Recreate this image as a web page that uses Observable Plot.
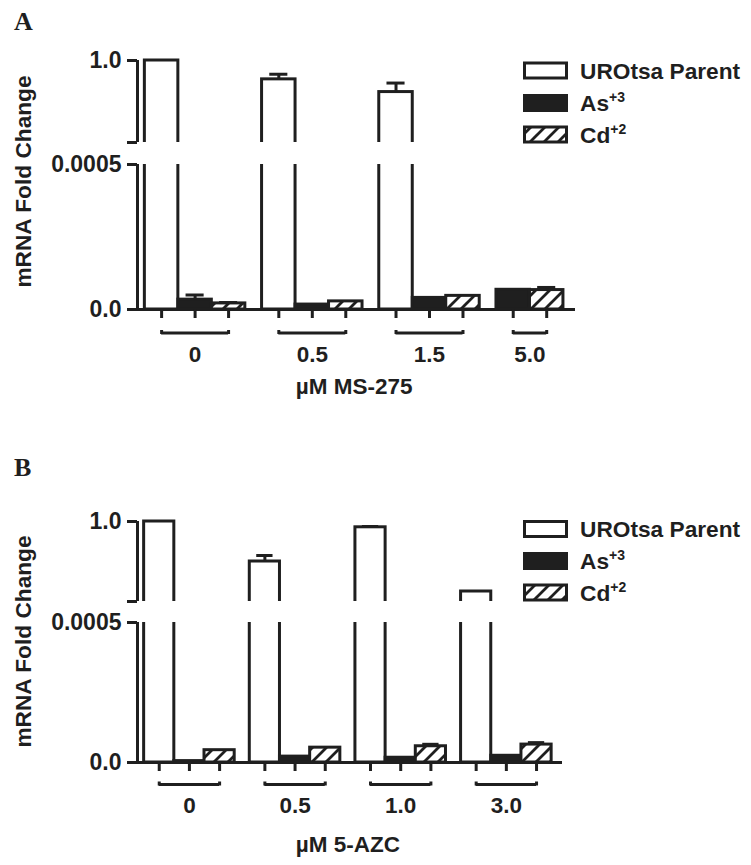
<!DOCTYPE html>
<html>
<head>
<meta charset="utf-8">
<script src="https://cdn.jsdelivr.net/npm/d3@7"></script>
<script src="https://cdn.jsdelivr.net/npm/@observablehq/plot@0.6"></script>
<style>
  html, body { margin: 0; padding: 0; background: #ffffff; }
  #root { position: relative; width: 751px; height: 865px; overflow: hidden; background: #ffffff; }
  #root > svg { position: absolute; left: 0; }
</style>
</head>
<body>
<div id="root">
  <svg id="overlay" width="751" height="865" style="position:absolute;left:0;top:0;">
    <defs>
      <pattern id="hatch" patternUnits="userSpaceOnUse" width="14" height="14">
        <rect width="14" height="14" fill="#ffffff"></rect>
        <path d="M-3.5,3.5 L3.5,-3.5 M0,14 L14,0 M10.5,17.5 L17.5,10.5" stroke="#1f1f1f" stroke-width="2.8"></path>
      </pattern>
    </defs>
  </svg>
</div>
<script>
// ---------------- data ----------------
const seriesNames = ["UROtsa Parent", "As", "Cd"];
const seriesSup = ["", "+3", "+2"];

// Panel A: µM MS-275
const dosesA = ["0", "0.5", "1.5", "5.0"];
const parentA = [1.0, 0.908, 0.846, null];
const parentErrA = [0.0, 0.025, 0.044, null];
const arsenicA = [0.000034, 0.000017, 0.000040, 0.000068];
const arsenicErrA = [0.000016, 0.0, 0.0, 0.0];
const cadmiumA = [0.000021, 0.000028, 0.000047, 0.000067];
const cadmiumErrA = [0.000003, 0.0, 0.0, 0.000009];
const titleA = "µM MS-275";

// Panel B: µM 5-AZC
const dosesB = ["0", "0.5", "1.0", "3.0"];
const parentB = [1.0, 0.80, 0.971, 0.65];
const parentErrB = [0.0, 0.03, 0.004, 0.0];
const arsenicB = [0.000005, 0.000021, 0.000017, 0.000024];
const arsenicErrB = [0.0, 0.0, 0.0, 0.0];
const cadmiumB = [0.000044, 0.000053, 0.000058, 0.000064];
const cadmiumErrB = [0.0, 0.0, 0.000007, 0.000007];
const titleB = "µM 5-AZC";

// broken y axis: upper segment [breakLow, 1.0], lower segment [0, 0.0005]
const upperTicks = [0.6, 1.0];
const lowerTicks = [0, 0.0005];
const yTickLabels = {"1": "1.0", "0.0005": "0.0005", "0": "0.0"};

// ---------------- styling ----------------
const INK = "#1f1f1f";
const FONT = "'Liberation Sans', Arial, Helvetica, sans-serif";
const GROUP_GAP = 0.5;
const FILLS = ["#ffffff", INK, "url(#hatch)"];

function buildRows(doses, series) {
  const rows = [], groups = [];
  let pos = 0;
  doses.forEach((dose, gi) => {
    const start = pos;
    series.forEach((s, si) => {
      const v = s.values[gi];
      if (v == null) return;
      rows.push({dose, series: si, value: v, err: s.errs[gi], pos});
      pos += 1;
    });
    groups.push({dose, start, end: pos - 1});
    pos += GROUP_GAP;
  });
  return {rows, groups, last: pos - GROUP_GAP - 1};
}

const root = document.getElementById("root");
const overlay = document.getElementById("overlay");
const NS = "http://www.w3.org/2000/svg";
function svgEl(tag, attrs, parent) {
  const e = document.createElementNS(NS, tag);
  for (const k in attrs) e.setAttribute(k, attrs[k]);
  (parent || overlay).appendChild(e);
  return e;
}

function makePanel(cfg) {
  const series = [
    {values: cfg.parent, errs: cfg.parentErr},
    {values: cfg.arsenic, errs: cfg.arsenicErr},
    {values: cfg.cadmium, errs: cfg.cadmiumErr}
  ];
  const {rows, groups, last} = buildRows(cfg.doses, series);
  const xDomain = [-0.5 - 0.22, last + 0.5 + 0.36];
  const marginRight = 751 - cfg.xRight;
  const style = {background: "transparent", overflow: "visible", fontFamily: FONT, color: INK};

  const bars = series.map((s, si) => Plot.rect(rows.filter(d => d.series === si), {
    x1: d => d.pos - 0.5, x2: d => d.pos + 0.5, y1: 0, y2: "value",
    fill: FILLS[si], stroke: INK, strokeWidth: 3, clip: true
  }));
  const withErr = rows.filter(d => d.err > 0);
  const errs = [
    Plot.ruleX(withErr, {x: "pos", y1: "value", y2: d => d.value + d.err, stroke: INK, strokeWidth: 3, clip: true}),
    Plot.ruleY(withErr, {y: d => d.value + d.err, x1: d => d.pos - 0.27, x2: d => d.pos + 0.27, stroke: INK, strokeWidth: 3, clip: true})
  ];
  const tickFmt = d => yTickLabels[String(d)] ?? "";

  // upper segment
  const upH = 20 + (cfg.upBottom - cfg.upTop) + 4;
  const upper = Plot.plot({
    width: 751, height: upH,
    marginLeft: 137, marginRight, marginTop: 8, marginBottom: 4,
    x: {domain: xDomain, axis: null},
    y: {domain: [upperTicks[0], upperTicks[1]], insetTop: 12, axis: null},
    style,
    marks: [
      ...bars, ...errs,
      Plot.ruleX([xDomain[0]], {y1: upperTicks[0], y2: upperTicks[1], stroke: INK, strokeWidth: 3}),
      Plot.axisY({ticks: upperTicks, tickFormat: tickFmt, tickSize: 10, tickPadding: 6, strokeWidth: 3,
        fontSize: 23, fontWeight: "bold", label: null, stroke: INK, fill: INK})
    ]
  });
  upper.style.top = (cfg.upTop - 20) + "px";
  root.appendChild(upper);

  // lower segment with x axis annotations
  const lowH = 10 + (cfg.lowBottom - cfg.lowTop) + 100;
  const ends = groups.flatMap(g => [g.start, g.end]);
  const lower = Plot.plot({
    width: 751, height: lowH,
    marginLeft: 137, marginRight, marginTop: 10, marginBottom: 100,
    x: {domain: xDomain, axis: null},
    y: {domain: [lowerTicks[0], lowerTicks[1]], axis: null},
    style,
    marks: [
      ...bars, ...errs,
      Plot.ruleX([xDomain[0]], {y1: lowerTicks[0], y2: lowerTicks[1], stroke: INK, strokeWidth: 3}),
      Plot.ruleY([0], {stroke: INK, strokeWidth: 3}),
      Plot.axisY({ticks: lowerTicks, tickFormat: tickFmt, tickSize: 10, tickPadding: 6, strokeWidth: 3,
        fontSize: 23, fontWeight: "bold", label: null, stroke: INK, fill: INK}),
      Plot.axisX({ticks: rows.map(d => d.pos), tickFormat: () => "", tickSize: 9, strokeWidth: 3, label: null, stroke: INK}),
      Plot.ruleY(groups, {y: 0, x1: "start", x2: "end", dy: cfg.bracketDy, stroke: INK, strokeWidth: 3}),
      Plot.ruleX(ends, {x: d => d, y1: 0, y2: 0, insetTop: 0, insetBottom: -4, dy: cfg.bracketDy + 1.5 - 4, stroke: INK, strokeWidth: 3}),
      Plot.text(groups, {x: d => (d.start + d.end) / 2, y: 0, text: "dose", dy: cfg.labelDy,
        fontSize: 22.5, fontWeight: "bold", fill: INK}),
      Plot.text([cfg.title], {x: () => last / 2, y: 0, text: d => d, dy: cfg.titleDy,
        fontSize: 22.5, fontWeight: "bold", fill: INK})
    ]
  });
  lower.style.top = (cfg.lowTop - 10) + "px";
  root.appendChild(lower);

  // panel letter
  const pl = svgEl("text", {x: 14, y: cfg.letterY, "font-family": "'Liberation Serif','Times New Roman',serif",
    "font-weight": "bold", "font-size": 26, fill: INK});
  pl.textContent = cfg.letter;

  // y axis title
  const yt = svgEl("text", {transform: `translate(31,${cfg.yTitleY}) rotate(-90)`, "text-anchor": "middle",
    "font-family": FONT, "font-weight": "bold", "font-size": 22.7, fill: INK});
  yt.textContent = "mRNA Fold Change";

  // legend
  cfg.legendY.forEach((cy, i) => {
    svgEl("rect", {x: 524.5, y: cy - 7.5, width: 42, height: 15, fill: FILLS[i], stroke: INK, "stroke-width": 3});
    const t = svgEl("text", {x: 580, y: cy + 8, "font-family": FONT, "font-weight": "bold", "font-size": 22.7, fill: INK});
    t.textContent = seriesNames[i];
    if (seriesSup[i]) {
      const s = svgEl("tspan", {"font-size": 14, dy: -9}, t);
      s.textContent = seriesSup[i];
    }
  });
}

makePanel({
  letter: "A", letterY: 30, yTitleY: 181.5,
  doses: dosesA, parent: parentA, parentErr: parentErrA, arsenic: arsenicA, arsenicErr: arsenicErrA,
  cadmium: cadmiumA, cadmiumErr: cadmiumErrA, title: titleA,
  xRight: 575, upTop: 60, upBottom: 142, lowTop: 164, lowBottom: 309,
  bracketDy: 23.5, labelDy: 45.5, titleDy: 77,
  legendY: [70.5, 103, 134.5]
});
makePanel({
  letter: "B", letterY: 476, yTitleY: 641.5,
  doses: dosesB, parent: parentB, parentErr: parentErrB, arsenic: arsenicB, arsenicErr: arsenicErrB,
  cadmium: cadmiumB, cadmiumErr: cadmiumErrB, title: titleB,
  xRight: 562, upTop: 521, upBottom: 601, lowTop: 622, lowBottom: 762,
  bracketDy: 22, labelDy: 43, titleDy: 82,
  legendY: [529, 561, 592.5]
});
</script>
</body>
</html>
